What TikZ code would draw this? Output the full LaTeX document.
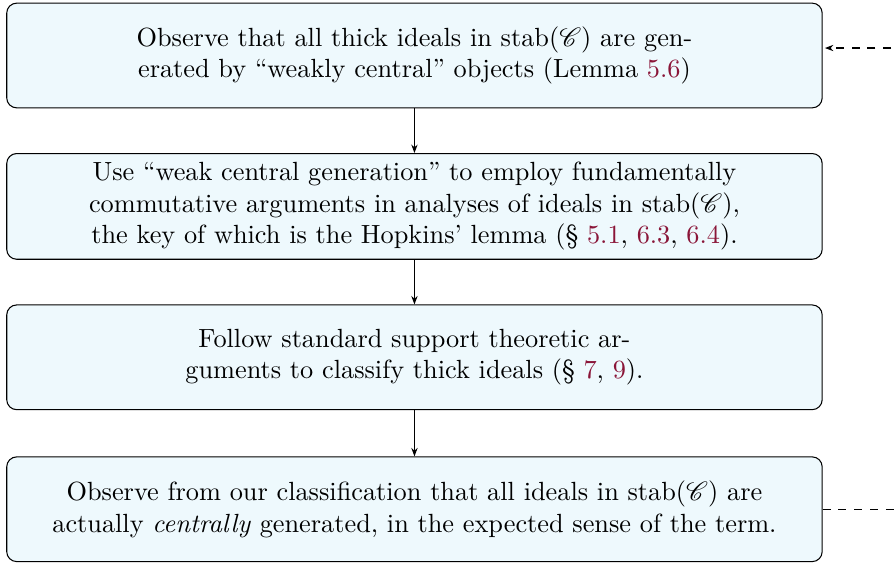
\documentclass[tikz,border=0pt]{standalone}
\usepackage{mathrsfs}
\usepackage{xcolor}
\definecolor{stagefill}{HTML}{EEF9FD}
\definecolor{refred}{HTML}{8A1538}
\usepackage{tikz}
\usetikzlibrary{arrows.meta,positioning,calc}

\newcommand{\rf}[1]{\textcolor{refred}{#1}}

\begin{document}
\begin{tikzpicture}[
  stage/.style={draw=black, fill=stagefill, rounded corners=3.8pt,
             minimum width=10.9cm, minimum height=1.40cm,
             align=center, font=\normalsize},
  arr/.style={-{Stealth[length=3.2pt,width=2.4pt]},draw=black,line width=0.4pt},
  back/.style={arr,dashed}
]
  \useasboundingbox (0,0) rectangle (11.95,7.535);

  %% Proof strategy
  \node[stage] (weak) at (5.54,6.793)
    {Observe that all thick ideals in stab($\mathscr{C}$) are gen-\\
     erated by “weakly central” objects (Lemma \rf{5.6})};
  \node[stage] (hop) at (5.54,4.776)
    {Use “weak central generation” to employ fundamentally\\
     commutative arguments in analyses of ideals in stab($\mathscr{C}$),\\
     the key of which is the Hopkins’ lemma (\S~\rf{5.1}, \rf{6.3}, \rf{6.4}).};
  \node[stage] (supp) at (5.54,2.759)
    {Follow standard support theoretic ar-\\
     guments to classify thick ideals (\S~\rf{7}, \rf{9}).};
  \node[stage] (cent) at (5.54,0.728)
    {Observe from our classification that all ideals in stab($\mathscr{C}$) are\\
     actually \emph{centrally} generated, in the expected sense of the term.};
  \draw[arr] (weak) -- (hop);
  \draw[arr] (hop)  -- (supp);
  \draw[arr] (supp) -- (cent);

  %% Feedback loop
  \coordinate (turn) at (12.8,0.728);
  \draw[back] (cent.east) -- (turn) |- ([yshift=0.1cm,xshift=0.03cm]weak.east);
\end{tikzpicture}
\end{document}
